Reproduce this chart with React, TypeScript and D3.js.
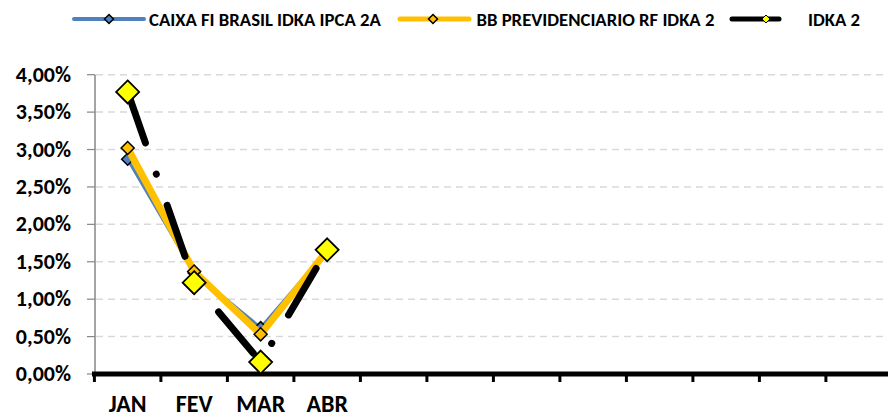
import React from "react";
import * as d3 from "d3";

const months = ["JAN", "FEV", "MAR", "ABR", "MAI", "JUN", "JUL", "AGO", "SET", "OUT", "NOV", "DEZ"];
const monthLabels = ["JAN", "FEV", "MAR", "ABR", "", "", "", "", "", "", "", ""];
const caixa = [2.87, 1.35, 0.62, 1.65];
const bb = [3.02, 1.37, 0.53, 1.65];
const idka = [3.77, 1.22, 0.16, 1.66];
const yTicks = [0, 0.5, 1, 1.5, 2, 2.5, 3, 3.5, 4];
const seriesNames = ["CAIXA FI BRASIL IDKA IPCA 2A", "BB PREVIDENCIARIO RF IDKA 2", "IDKA 2"];

const W = 888;
const H = 417;
const FONT = "Carlito, 'Liberation Sans Narrow', 'Arial Narrow', sans-serif";

export default function App() {
  const x = d3.scaleBand<string>().domain(months).range([94.4, 892.4]);
  const y = d3.scaleLinear().domain([0, 4]).range([374, 74.7]);
  const cx = (i: number) => (x(months[i]) as number) + x.bandwidth() / 2;
  const line = d3
    .line<number>()
    .x((_, i) => cx(i))
    .y((d) => y(d));
  const fmt = (v: number) => v.toFixed(2).replace(".", ",") + "%";
  const diamond = (px: number, py: number, r: number) =>
    `M${px},${py - r}L${px + r},${py}L${px},${py + r}L${px - r},${py}Z`;

  const boundaries = d3.range(13).map((k) => 94.4 + k * x.bandwidth());

  return (
    <div style={{ position: "absolute", left: 0, top: 0 }}>
      <svg width={W} height={H} style={{ display: "block", background: "#fff" }}>
        {/* legend */}
        <g fontFamily={FONT} fontWeight="bold" fontSize={18.7} fill="#000">
          <line x1={74} x2={144} y1={19} y2={19} stroke="#4F81BD" strokeWidth={4} strokeLinecap="round" />
          <path d={diamond(109, 19, 4.5)} fill="#4F81BD" stroke="#000" strokeWidth={1.5} />
          <text x={149} y={25.5}>{seriesNames[0]}</text>
          <line x1={400} x2={469} y1={19} y2={19} stroke="#FFC000" strokeWidth={5} strokeLinecap="round" />
          <path d={diamond(433, 19, 4.5)} fill="#FFC000" stroke="#000" strokeWidth={1.5} />
          <text x={476.5} y={25.5}>{seriesNames[1]}</text>
          <line x1={732} x2={779} y1={19} y2={19} stroke="#000" strokeWidth={5} strokeLinecap="round" />
          <path d={diamond(766, 19, 4)} fill="#FFFF00" stroke="#000" strokeWidth={1} />
          <text x={808} y={25.5}>{seriesNames[2]}</text>
        </g>

        {/* gridlines */}
        {yTicks.slice(1).map((t) => (
          <line key={t} x1={96} x2={W} y1={y(t)} y2={y(t)} stroke="#D9D9D9" strokeWidth={1.5} strokeDasharray="7 5" />
        ))}
        {/* y ticks */}
        {yTicks.map((t) => (
          <line key={"t" + t} x1={87} x2={95} y1={y(t)} y2={y(t)} stroke="#868686" strokeWidth={1.2} />
        ))}
        <line x1={95} x2={95} y1={y(4)} y2={y(0)} stroke="#868686" strokeWidth={1.5} />
        <g fontFamily={FONT} fontWeight="bold" fontSize={22} fill="#000" textAnchor="end">
          {yTicks.map((t) => (
            <text key={"l" + t} x={71} y={y(t) + 7}>{fmt(t)}</text>
          ))}
        </g>

        {/* x axis */}
        <line x1={92} x2={W} y1={374} y2={374} stroke="#000" strokeWidth={5} />
        {boundaries.map((b, k) => (
          <line key={"b" + k} x1={b} x2={b} y1={374} y2={382} stroke="#000" strokeWidth={3} />
        ))}
        <g fontFamily={FONT} fontWeight="bold" fontSize={24} fill="#000" textAnchor="middle">
          {monthLabels.map((m, i) => (m ? <text key={m} x={cx(i)} y={411.5}>{m}</text> : null))}
        </g>

        {/* series */}
        <path d={line(caixa) as string} fill="none" stroke="#4F81BD" strokeWidth={3} strokeLinejoin="round" />
        {caixa.map((v, i) => (
          <path key={"c" + i} d={diamond(cx(i), y(v), 6)} fill="#4F81BD" stroke="#000" strokeWidth={1.5} />
        ))}
        <path d={line(bb) as string} fill="none" stroke="#FFC000" strokeWidth={7} strokeLinejoin="round" />
        {bb.map((v, i) => (
          <path key={"b" + i} d={diamond(cx(i), y(v), 6.5)} fill="#FFC000" stroke="#000" strokeWidth={1.5} />
        ))}
        <path
          d={line(idka) as string}
          fill="none"
          stroke="#000"
          strokeWidth={7}
          strokeLinecap="round"
          strokeLinejoin="round"
          strokeDasharray="54 33 0.1 33"
        />
        {idka.map((v, i) => (
          <path key={"i" + i} d={diamond(cx(i), y(v), 11.5)} fill="#FFFF00" stroke="#000" strokeWidth={1.8} />
        ))}
      </svg>
    </div>
  );
}
